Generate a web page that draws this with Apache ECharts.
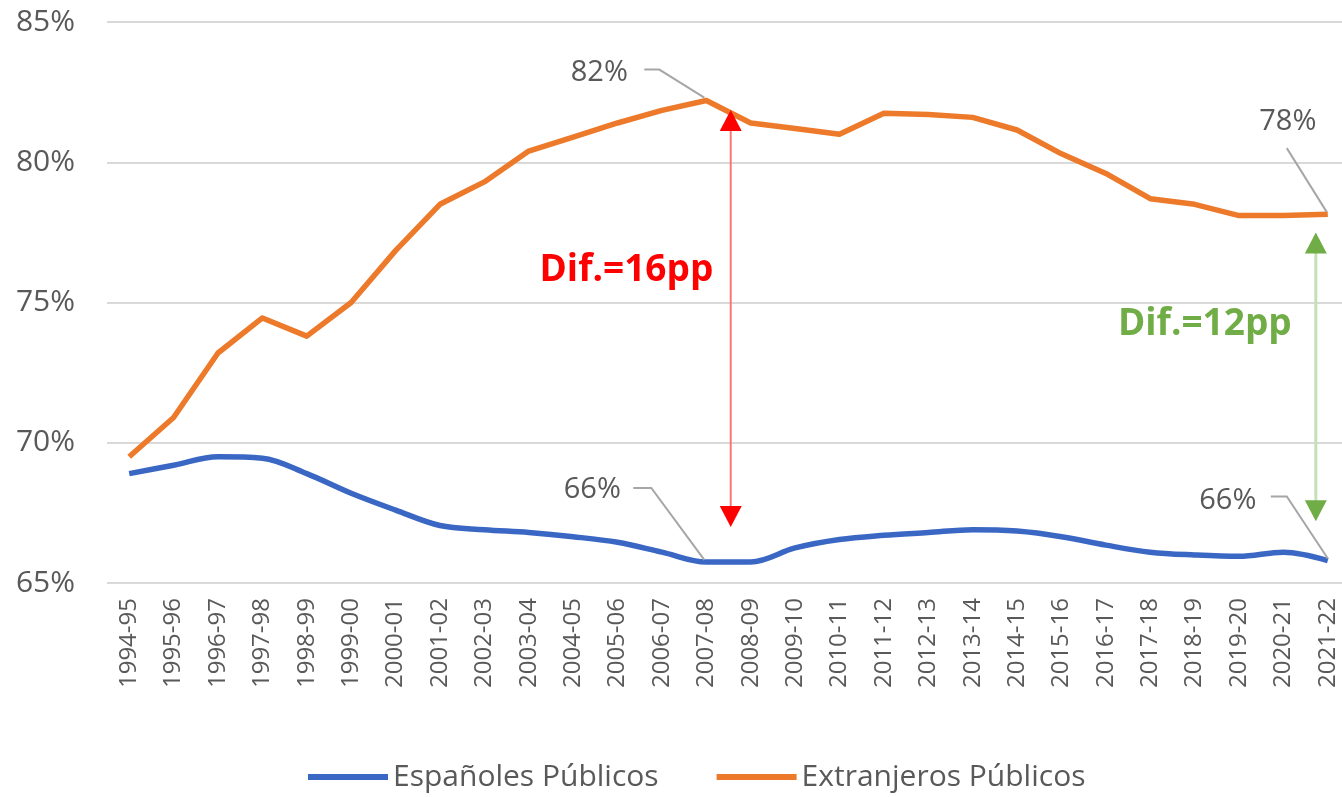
<!DOCTYPE html>
<html>
<head>
<meta charset="utf-8">
<script src="https://cdn.jsdelivr.net/npm/echarts@6/dist/echarts.min.js"></script>
<style>
  html, body { margin: 0; padding: 0; background: #fff; overflow: hidden; }
  #chart { width: 1350px; height: 797px; }
</style>
</head>
<body>
<div id="chart"></div>
<script>
// cursos
const cursos = [
  '1994-95', '1995-96', '1996-97', '1997-98', '1998-99', '1999-00', '2000-01',
  '2001-02', '2002-03', '2003-04', '2004-05', '2005-06', '2006-07', '2007-08',
  '2008-09', '2009-10', '2010-11', '2011-12', '2012-13', '2013-14', '2014-15',
  '2015-16', '2016-17', '2017-18', '2018-19', '2019-20', '2020-21', '2021-22'
]

// % alumnado en centros públicos
const espanolesPublicos = [
  68.9, 69.2, 69.5, 69.45, 68.9, 68.2, 67.6, 67.05, 66.9, 66.8, 66.65, 66.45, 66.1, 65.75,
  65.75, 66.25, 66.55, 66.7, 66.8, 66.9, 66.85, 66.65, 66.35, 66.1, 66.0, 65.95, 66.1, 65.8
]
const extranjerosPublicos = [
  69.5, 70.9, 73.2, 74.45, 73.8, 75.0, 76.85, 78.5, 79.3, 80.4, 80.9, 81.4, 81.85, 82.2,
  81.4, 81.2, 81.0, 81.75, 81.7, 81.6, 81.15, 80.3, 79.6, 78.7, 78.5, 78.1, 78.1, 78.15
]

const yTicks = [65, 70, 75, 80, 85]

const FONT = 'Open Sans'
const GREY = '#595959'
const BLUE = '#3b67c4'
const ORANGE = '#ed7a2a'

const chart = echarts.init(document.getElementById('chart'))

const option = {
  animation: false,
  grid: { left: 107, right: 0, top: 22, bottom: 214, containLabel: false },
  legend: {
    bottom: 0,
    left: 303,
    icon: 'rect',
    itemWidth: 80,
    itemHeight: 6,
    itemGap: 58,
    textStyle: { fontFamily: FONT, fontSize: 30, color: GREY },
    data: ['Españoles Públicos', 'Extranjeros Públicos']
  },
  xAxis: {
    type: 'category',
    data: cursos,
    boundaryGap: true,
    axisLine: { show: false },
    axisTick: { show: false },
    axisLabel: {
      rotate: 90,
      interval: 0,
      margin: 15,
      fontFamily: FONT,
      fontSize: 24,
      color: GREY
    }
  },
  yAxis: {
    type: 'value',
    min: yTicks[0],
    max: yTicks[yTicks.length - 1],
    interval: 5,
    axisLine: { show: false },
    axisTick: { show: false },
    splitLine: { lineStyle: { color: '#d9d9d9', width: 2 } },
    axisLabel: {
      formatter: '{value}%',
      margin: 32,
      fontFamily: FONT,
      fontSize: 30,
      color: GREY
    }
  },
  series: [
    {
      name: 'Españoles Públicos',
      type: 'line',
      data: espanolesPublicos,
      smooth: 0.35,
      showSymbol: false,
      lineStyle: { color: BLUE, width: 5.5 },
      itemStyle: { color: BLUE }
    },
    {
      name: 'Extranjeros Públicos',
      type: 'line',
      data: extranjerosPublicos,
      showSymbol: false,
      lineStyle: { color: ORANGE, width: 5.5, join: 'round' },
      itemStyle: { color: ORANGE }
    }
  ]
}
chart.setOption(option)

// etiquetas con línea guía
const etiquetas = [
  { serie: extranjerosPublicos, idx: 13, txt: '82%', dx: -107, dy: -28, guia: [[-62, -31], [-47, -31], [-2, -3]] },
  { serie: espanolesPublicos, idx: 13, txt: '66%', dx: -114, dy: -72, guia: [[-73, -74], [-55, -74], [-2, -2]] },
  { serie: extranjerosPublicos, idx: 27, txt: '78%', dx: -40, dy: -92, guia: [[-41, -66], [-1, -2]] },
  { serie: espanolesPublicos, idx: 27, txt: '66%', dx: -100, dy: -60, guia: [[-57, -64], [-41, -64], [0, -2]] }
]

// flechas de diferencia (posición en índice de curso y valor)
const flechas = [
  { idx: 13.55, desde: 81.86, hasta: 67.0, linea: '#ff7575', punta: '#ff0000', ancho: 2, txt: 'Dif.=16pp', txtIdx: 11.2, txtVal: 76.15 },
  { idx: 26.73, desde: 77.5, hasta: 67.2, linea: '#c5e0b4', punta: '#70ad47', ancho: 3, txt: 'Dif.=12pp', txtIdx: 24.23, txtVal: 74.2 }
]

const px = (i, v) => chart.convertToPixel({ gridIndex: 0 }, [i, v])
// posición entre dos cursos
const pxAt = (fi, v) => {
  const a = px(Math.floor(fi), v)
  const b = px(Math.ceil(fi), v)
  const t = fi - Math.floor(fi)
  return [a[0] + (b[0] - a[0]) * t, a[1]]
}

const graphics = []
etiquetas.forEach((e) => {
  const p = px(e.idx, e.serie[e.idx])
  graphics.push({
    type: 'text',
    x: p[0] + e.dx,
    y: p[1] + e.dy,
    style: {
      text: e.txt,
      fill: GREY,
      font: '29px "' + FONT + '"',
      align: 'center',
      verticalAlign: 'middle'
    },
    z: 10
  })
  graphics.push({
    type: 'polyline',
    shape: { points: e.guia.map((g) => [p[0] + g[0], p[1] + g[1]]) },
    style: { stroke: '#a6a6a6', lineWidth: 2, fill: null },
    z: 10
  })
})

flechas.forEach((f) => {
  const top = pxAt(f.idx, f.desde)
  const bot = pxAt(f.idx, f.hasta)
  const x = top[0]
  graphics.push({
    type: 'line',
    shape: { x1: x, y1: top[1] + 18, x2: x, y2: bot[1] - 18 },
    style: { stroke: f.linea, lineWidth: f.ancho },
    z: 10
  })
  graphics.push({
    type: 'polygon',
    shape: { points: [[x, top[1]], [x - 11, top[1] + 21], [x + 11, top[1] + 21]] },
    style: { fill: f.punta },
    z: 11
  })
  graphics.push({
    type: 'polygon',
    shape: { points: [[x, bot[1]], [x - 11, bot[1] - 21], [x + 11, bot[1] - 21]] },
    style: { fill: f.punta },
    z: 11
  })
  const t = pxAt(f.txtIdx, f.txtVal)
  graphics.push({
    type: 'text',
    x: t[0],
    y: t[1],
    style: {
      text: f.txt,
      fill: f.punta,
      font: 'bold 37px "' + FONT + '"',
      align: 'center',
      verticalAlign: 'middle'
    },
    z: 12
  })
})

chart.setOption({ graphic: graphics })
</script>
</body>
</html>
